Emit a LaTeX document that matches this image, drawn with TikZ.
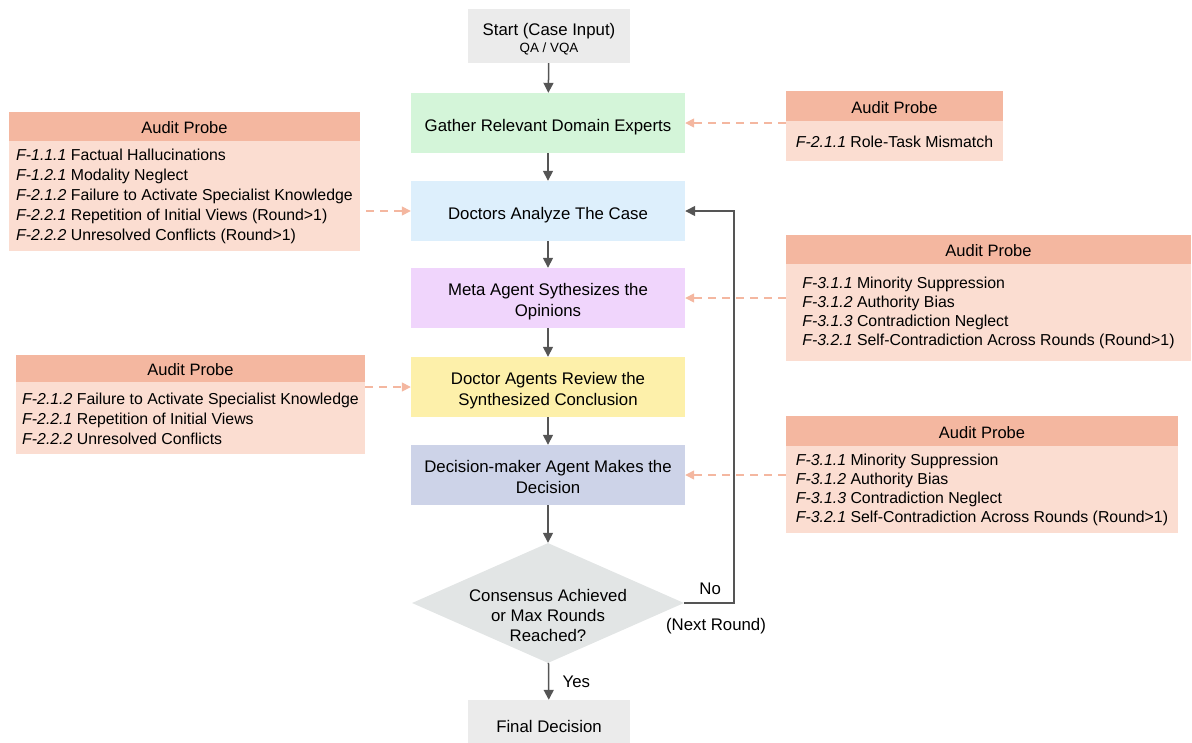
\documentclass[tikz,border=0pt]{standalone}
\usepackage{fontspec}
\setmainfont{Liberation Sans}
\usepackage{xcolor}
\usepackage{tikz}
\usetikzlibrary{arrows.meta, positioning, shapes.geometric}
\definecolor{mygray}{RGB}{235, 235, 235}
\definecolor{mygreen}{RGB}{212, 245, 217}
\definecolor{myblue}{RGB}{221, 239, 252}
\definecolor{mypurple}{RGB}{240, 213, 252}
\definecolor{myyellow}{RGB}{253, 240, 170}
\definecolor{myslate}{RGB}{205, 211, 232}
\definecolor{mydiamond}{RGB}{226, 229, 229}
\definecolor{myhead}{RGB}{244, 183, 160}
\definecolor{mybody}{RGB}{251, 221, 209}
\definecolor{myarrow}{RGB}{85, 85, 85}

\begin{document}
\begin{tikzpicture}[x=1pt, y=-1pt,
    stage/.style={rectangle, fill=#1, minimum width=274pt, minimum height=60pt, align=center, inner sep=2pt, text height=21pt, text depth=4pt, font=\fontsize{16.8}{21}\selectfont},
    twoline/.style={text height=40pt},
    probehead/.style={rectangle, fill=myhead, inner sep=0pt, font=\fontsize{16.5}{20}\selectfont, execute at begin node={\rule{0pt}{15pt}}},
    probebody/.style={rectangle, fill=mybody, align=left, inner sep=0pt, font=\fontsize{15.85}{20}\selectfont},
    flow/.style={-{Triangle[length=10pt, width=10pt]}, draw=myarrow, line width=1.5pt},
    probe/.style={-{Triangle[length=9pt, width=9pt]}, draw=myhead, line width=1.5pt, dash pattern=on 8pt off 6pt}]
    \useasboundingbox (0,0) rectangle (1192,742);

    % Ablauf
    \node[stage=mygray, minimum width=162pt, minimum height=54pt, text height=37pt] (start) at (549,36) {Start (Case Input)\\[-4pt]{\fontsize{13.4}{15}\selectfont QA / VQA}};
    \node[stage=mygreen] (gather) at (548,123) {Gather Relevant Domain Experts};
    \node[stage=myblue, text height=20pt] (analyze) at (548,211) {Doctors Analyze The Case};
    \node[stage=mypurple, twoline] (meta) at (548,298) {Meta Agent Sythesizes the\\Opinions};
    \node[stage=myyellow, twoline] (review) at (548,387) {Doctor Agents Review the\\Synthesized Conclusion};
    \node[stage=myslate, twoline] (decide) at (548,475) {Decision-maker Agent Makes the\\Decision};
    \node[diamond, fill=mydiamond, minimum width=272pt, minimum height=120pt, inner sep=0pt] (check) at (548,603) {};
    \node[align=center, font=\fontsize{16.8}{20}\selectfont] (checktext) at ([yshift=-12pt]check.center) {Consensus Achieved\\or Max Rounds\\Reached?};
    \node[stage=mygray, minimum width=162pt, minimum height=52pt, text height=16pt] (final) at (549,726) {Final Decision};

    \draw[flow] (start) -- (gather);
    \draw[flow] (gather) -- (analyze);
    \draw[flow] (analyze) -- (meta);
    \draw[flow] (meta) -- (review);
    \draw[flow] (review) -- (decide);
    \draw[flow] (decide) -- (check);
    \draw[flow] (check) -- node[right=10pt, font=\fontsize{16.8}{20}\selectfont] {Yes} (final);
    \draw[flow] (check.east) -- node[above=4pt, xshift=1pt, font=\fontsize{16.8}{20}\selectfont] {No} ++(50,0) |- (analyze.east);
    \node[font=\fontsize{16.8}{20}\selectfont] (nextround) at (716,626) {(Next Round)};

    % Audit Probes links
    \node[probehead, minimum width=351pt, minimum height=29pt] (probeA) at (184.5,126.5) {Audit Probe};
    \node[probebody, minimum width=351pt, minimum height=110pt, below=0pt of probeA] (probeAbody) {\textit{F-1.1.1} Factual Hallucinations\\\textit{F-1.2.1} Modality Neglect\\\textit{F-2.1.2} Failure to Activate Specialist Knowledge\\\textit{F-2.2.1} Repetition of Initial Views (Round>1)\\\textit{F-2.2.2} Unresolved Conflicts (Round>1)};
    \node[probehead, minimum width=349pt, minimum height=27pt] (probeD) at (190.5,368.5) {Audit Probe};
    \node[probebody, minimum width=349pt, minimum height=72pt, below=0pt of probeD] (probeDbody) {\textit{F-2.1.2} Failure to Activate Specialist Knowledge\\\textit{F-2.2.1} Repetition of Initial Views\\\textit{F-2.2.2} Unresolved Conflicts};

    % Audit Probes rechts
    \node[probehead, minimum width=217pt, minimum height=30pt] (probeB) at (894.5,106) {Audit Probe};
    \node[probebody, minimum width=217pt, minimum height=40pt, below=0pt of probeB] (probeBbody) {\textit{F-2.1.1} Role-Task Mismatch};
    \node[probehead, minimum width=405pt, minimum height=29pt] (probeC) at (988.5,249.5) {Audit Probe};
    \node[probebody, minimum width=405pt, minimum height=97pt, below=0pt of probeC, font=\fontsize{15.85}{19.3}\selectfont] (probeCbody) {\textit{F-3.1.1} Minority Suppression\\\textit{F-3.1.2} Authority Bias\\\textit{F-3.1.3} Contradiction Neglect\\\textit{F-3.2.1} Self-Contradiction Across Rounds (Round>1)};
    \node[probehead, minimum width=392pt, minimum height=30pt] (probeE) at (982,431) {Audit Probe};
    \node[probebody, minimum width=392pt, minimum height=87pt, below=0pt of probeE, font=\fontsize{15.85}{19.3}\selectfont] (probeEbody) {\textit{F-3.1.1} Minority Suppression\\\textit{F-3.1.2} Authority Bias\\\textit{F-3.1.3} Contradiction Neglect\\\textit{F-3.2.1} Self-Contradiction Across Rounds (Round>1)};

    \draw[probe, shorten <=6pt] (probeAbody.east |- analyze.west) -- (analyze.west);
    \draw[probe] (probeDbody.east |- review.west) -- (review.west);
    \draw[probe] (probeBbody.west |- gather.east) -- (gather.east);
    \draw[probe] (probeCbody.west |- meta.east) -- (meta.east);
    \draw[probe] (probeEbody.west |- decide.east) -- (decide.east);
\end{tikzpicture}
\end{document}
